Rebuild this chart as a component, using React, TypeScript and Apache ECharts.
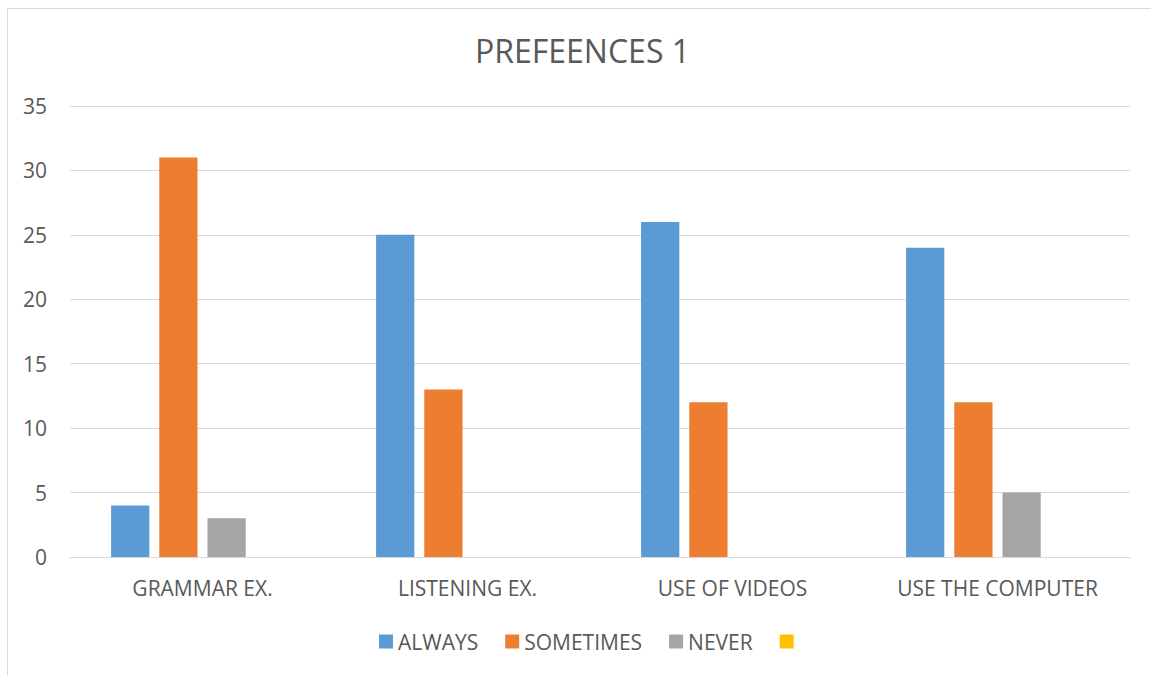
import React, { useEffect, useRef } from "react";
import * as echarts from "echarts";

// Survey answers per activity
const categories = ["GRAMMAR EX.", "LISTENING EX.", "USE OF VIDEOS", "USE THE COMPUTER"];
const always = [4, 25, 26, 24];
const sometimes = [31, 13, 12, 12];
const never = [3, 0, 0, 5];
const blank = [null, null, null, null];
const yTicks = { min: 0, max: 35, interval: 5 };

const FONT = "'Open Sans', sans-serif";
const TEXT = "#595959";

export default function App() {
  const ref = useRef<HTMLDivElement>(null);

  useEffect(() => {
    if (!ref.current) return;
    const chart = echarts.init(ref.current, undefined, { renderer: "svg" });
    const barSeries = (name: string, data: (number | null)[], color: string) => ({
      name,
      type: "bar",
      data,
      itemStyle: { color },
      barGap: "26%",
      barCategoryGap: "31%",
    });
    chart.setOption({
      animation: false,
      backgroundColor: "#ffffff",
      textStyle: { fontFamily: FONT },
      title: {
        text: "PREFEENCES 1",
        left: 470,
        top: 29,
        textStyle: { fontFamily: FONT, fontSize: 32, fontWeight: "normal", color: TEXT },
      },
      graphic: [
        {
          type: "rect",
          shape: { x: 7.5, y: 8.5, width: 1200, height: 700 },
          style: { fill: "none", stroke: "#D9D9D9", lineWidth: 1 },
          silent: true,
        },
      ],
      legend: {
        top: 631,
        left: 379,
        padding: 0,
        icon: "rect",
        itemWidth: 14,
        itemHeight: 14,
        itemGap: 27,
        textStyle: { fontFamily: FONT, fontSize: 21, color: TEXT },
        data: ["ALWAYS", "SOMETIMES", "NEVER", " "],
      },
      grid: { left: 70, right: 21, top: 106, bottom: 118, containLabel: false },
      xAxis: {
        type: "category",
        data: categories,
        axisLine: { show: true, lineStyle: { color: "#D9D9D9", width: 1 } },
        axisTick: { show: false },
        axisLabel: { color: TEXT, fontSize: 21, fontFamily: FONT, margin: 20 },
      },
      yAxis: {
        type: "value",
        min: yTicks.min,
        max: yTicks.max,
        interval: yTicks.interval,
        axisLine: { show: false },
        axisTick: { show: false },
        splitLine: { lineStyle: { color: "#D9D9D9", width: 1 } },
        axisLabel: { color: TEXT, fontSize: 21, fontFamily: FONT, margin: 23 },
      },
      series: [
        barSeries("ALWAYS", always, "#5B9BD5"),
        barSeries("SOMETIMES", sometimes, "#ED7D31"),
        barSeries("NEVER", never, "#A5A5A5"),
        barSeries(" ", blank, "#FFC000"),
      ],
    });
    return () => chart.dispose();
  }, []);

  return (
    <div
      ref={ref}
      style={{ position: "absolute", left: 0, top: 0, width: 1151, height: 675 }}
    />
  );
}
